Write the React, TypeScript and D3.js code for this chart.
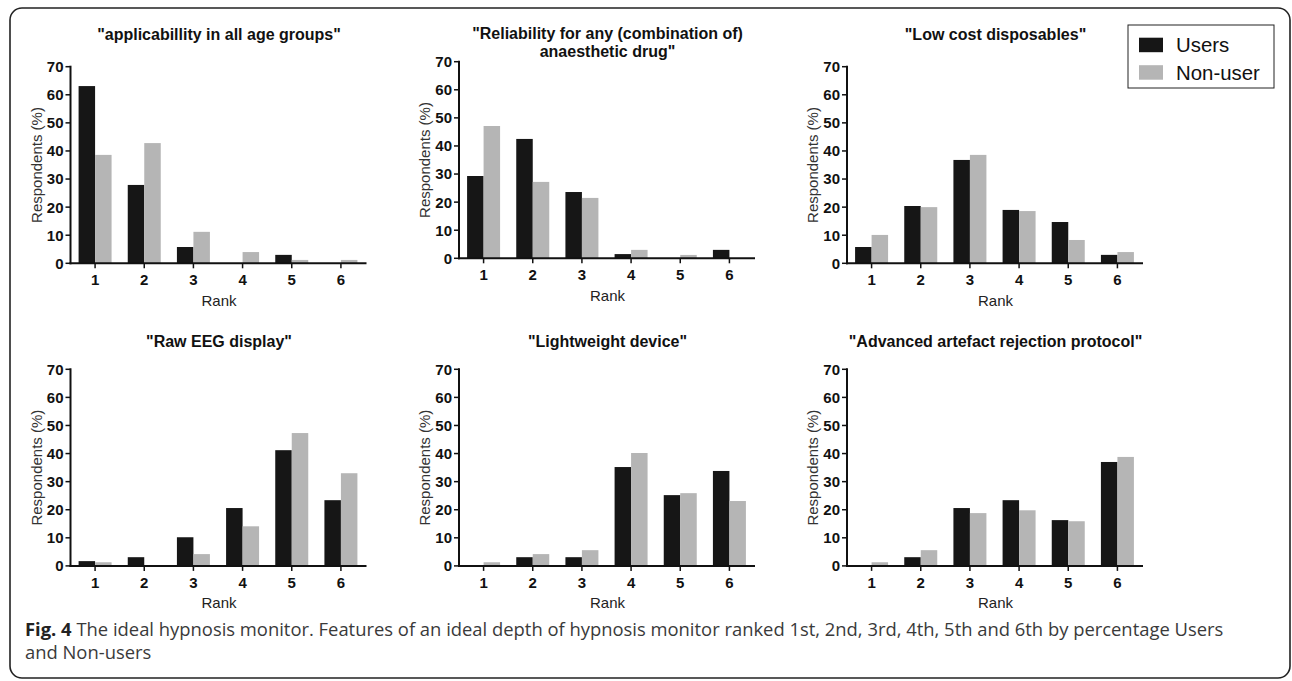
import React from 'react';
import * as d3 from 'd3';

// ranks on the x axis and the two groups
const ranks = ['1', '2', '3', '4', '5', '6'];
const groups = ['Users', 'Non-user'];
const yTicks = [0, 10, 20, 30, 40, 50, 60, 70];

// percentages, one array per panel and group
const ageUsers = [63.1, 27.9, 5.8, 0, 3.0, 0];
const ageNonUsers = [38.6, 42.8, 11.2, 4.0, 1.2, 1.2];
const drugUsers = [29.3, 42.5, 23.6, 1.5, 0, 3.0];
const drugNonUsers = [47.1, 27.2, 21.5, 3.0, 1.2, 0];
const costUsers = [5.8, 20.4, 36.8, 19.0, 14.7, 3.0];
const costNonUsers = [10.1, 20.0, 38.6, 18.6, 8.3, 4.0];
const eegUsers = [1.7, 3.1, 10.2, 20.6, 41.2, 23.4];
const eegNonUsers = [1.3, 0, 4.2, 14.1, 47.3, 33.0];
const weightUsers = [0, 3.1, 3.1, 35.2, 25.2, 33.8];
const weightNonUsers = [1.3, 4.2, 5.6, 40.2, 25.9, 23.1];
const artefactUsers = [0, 3.1, 20.6, 23.4, 16.3, 37.0];
const artefactNonUsers = [1.3, 5.6, 18.8, 19.8, 15.9, 38.8];

const titles = [
  ['"applicabillity in all age groups"'],
  ['"Reliability for any (combination of)', 'anaesthetic drug"'],
  ['"Low cost disposables"'],
  ['"Raw EEG display"'],
  ['"Lightweight device"'],
  ['"Advanced artefact rejection protocol"'],
];

const panelData = [
  [ageUsers, ageNonUsers],
  [drugUsers, drugNonUsers],
  [costUsers, costNonUsers],
  [eegUsers, eegNonUsers],
  [weightUsers, weightNonUsers],
  [artefactUsers, artefactNonUsers],
];

const W = 1292;
const H = 681;
const plotW = 295;
const plotH = 196.6;
const colX = [70.5, 459, 847];
// plot tops and title baselines per panel
const plotTop = [66.7, 61.7, 66.7, 369.3, 369.3, 369.3];
const titleY = [39.5, 39.3, 39.5, 347.3, 347.3, 347.3];

const colors = { Users: '#161616', 'Non-user': '#b5b5b5' };
const font = '"Liberation Sans", Arial, Helvetica, sans-serif';

const Panel = ({ i }: { i: number }) => {
  const left = colX[i % 3];
  const top = plotTop[i];
  const x0 = d3.scaleBand().domain(ranks).range([0, plotW]);
  const x1 = d3.scaleBand().domain(groups).range([0, x0.bandwidth()]).paddingOuter(0.49);
  const y = d3.scaleLinear().domain([0, 70]).range([plotH, 0]);
  const [users, nonUsers] = panelData[i];
  const rows = ranks.map((r, k) => ({ rank: r, Users: users[k], 'Non-user': nonUsers[k] }));

  return (
    <g>
      {titles[i].map((t, k) => (
        <text
          key={t}
          x={left + plotW / 2 + 1}
          y={titleY[i] + k * 17.4}
          textAnchor="middle"
          fontFamily={font}
          fontWeight="bold"
          fontSize={16}
          fill="#111"
        >
          {t}
        </text>
      ))}
      <g transform={`translate(${left}, ${top})`}>
        {rows.map((row) => (
          <g key={row.rank} transform={`translate(${x0(row.rank)}, 0)`}>
            {groups.map((g) =>
              row[g] > 0 ? (
                <rect
                  key={g}
                  x={x1(g)}
                  y={y(row[g])}
                  width={x1.bandwidth()}
                  height={plotH - y(row[g])}
                  fill={colors[g]}
                />
              ) : null
            )}
          </g>
        ))}
        {/* y axis */}
        <line x1={0} x2={0} y1={y(70) - 1} y2={plotH + 1} stroke="#111" strokeWidth={2} />
        {yTicks.map((t) => (
          <g key={t} transform={`translate(0, ${y(t)})`}>
            <line x1={-5} x2={0} stroke="#111" strokeWidth={1.5} />
            <text
              x={-7}
              dy="0.36em"
              textAnchor="end"
              fontFamily={font}
              fontWeight="bold"
              fontSize={15}
              fill="#111"
            >
              {t}
            </text>
          </g>
        ))}
        {/* x axis */}
        <line x1={-1} x2={plotW + 1} y1={plotH} y2={plotH} stroke="#111" strokeWidth={2} />
        {ranks.map((r) => {
          const cx = (x0(r) || 0) + x0.bandwidth() / 2;
          return (
            <g key={r} transform={`translate(${cx}, ${plotH})`}>
              <line y1={0} y2={5} stroke="#111" strokeWidth={1.5} />
              <text
                y={22}
                textAnchor="middle"
                fontFamily={font}
                fontWeight="bold"
                fontSize={15}
                fill="#111"
              >
                {r}
              </text>
            </g>
          );
        })}
        <text
          x={plotW / 2 + 1}
          y={plotH + 42.5}
          textAnchor="middle"
          fontFamily={font}
          fontSize={15}
          fill="#222"
        >
          Rank
        </text>
        <text
          transform={`translate(${-34}, ${plotH / 2}) rotate(-90)`}
          dy="0.35em"
          textAnchor="middle"
          fontFamily={font}
          fontSize={15}
          fill="#333"
        >
          Respondents (%)
        </text>
      </g>
    </g>
  );
};

const App = () => {
  return (
    <svg width={W} height={H} style={{ position: 'absolute', left: 0, top: 0, background: '#fff' }}>
      <rect x={0} y={0} width={W} height={H} fill="#fff" />
      <rect x={10} y={8} width={1280} height={670} rx={12} fill="none" stroke="#222" strokeWidth={1.6} />
      {titles.map((_, i) => (
        <Panel key={i} i={i} />
      ))}
      {/* legend */}
      <g fontFamily={font}>
        <rect x={1128} y={25} width={146} height={63} fill="#fff" stroke="#222" strokeWidth={1} />
        {groups.map((g, k) => (
          <g key={g} transform={`translate(1139, ${37.7 + k * 27.5})`}>
            <rect width={24} height={14.5} fill={colors[g]} />
            <text x={37} y={14.5} fontSize={20.4} fill="#111">
              {g}
            </text>
          </g>
        ))}
      </g>
      {/* caption */}
      <g fontFamily='"Open Sans", "Noto Sans", sans-serif' fontSize={18.4} fill="#3a3a3a">
        <text x={25} y={636}>
          <tspan fontWeight="bold" fill="#222">Fig. 4</tspan>
          <tspan>
            {' '}The ideal hypnosis monitor. Features of an ideal depth of hypnosis monitor ranked 1st, 2nd, 3rd, 4th, 5th and 6th by percentage Users
          </tspan>
        </text>
        <text x={25} y={659}>
          and Non-users
        </text>
      </g>
    </svg>
  );
};

export default App;
